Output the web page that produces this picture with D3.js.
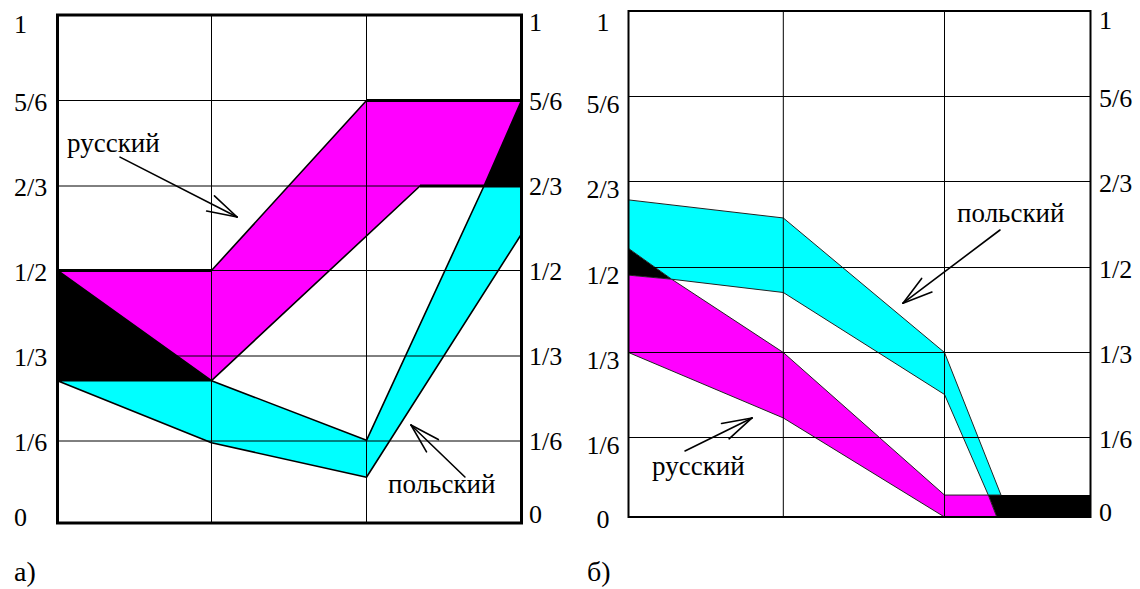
<!DOCTYPE html>
<html>
<head>
<meta charset="utf-8">
<script src="https://cdn.jsdelivr.net/npm/d3@7"></script>
</head>
<body style="margin:0;background:#fff">
<svg id="chart" width="1140" height="589" style="display:block"></svg>
<script>
// ---------- data ----------
const tickValues = [0, 1/6, 1/3, 1/2, 2/3, 5/6, 1];
const tickLabels = ["0", "1/6", "1/3", "1/2", "2/3", "5/6", "1"];
const columns = [0, 1, 2, 3];

// panel а) : polygons as [column position, share]
const aRussian   = [[0, 0.5], [1, 0.5], [2, 5/6], [3, 5/6], [2.758, 2/3], [2.345, 2/3], [1, 0.285]];
const aPolish    = [[0, 0.285], [1, 0.285], [2, 0.168], [2.758, 2/3], [3, 2/3], [3, 0.572], [2, 0.093], [1, 0.163]];
const aBlackLeft = [[0, 0.5], [0, 0.285], [1, 0.285]];
const aBlackRight = [[2.758, 2/3], [3, 5/6], [3, 2/3]];
const aThickEdges = [[[0, 0.5], [1, 0.5]], [[2, 5/6], [3, 5/6]], [[2.345, 2/3], [3, 2/3]]];

// panel б)
const bPolish    = [[0, 0.631], [1, 0.596], [2, 1/3], [2.387, 0.046], [2.300, 0.046], [2, 0.251], [1, 0.451], [0.279, 0.477], [0, 0.537]];
const bRussian   = [[0, 0.485], [0.279, 0.477], [1, 1/3], [2, 0.046], [2.300, 0.046], [2.358, 0], [2, 0], [1, 0.205], [0, 1/3]];
const bBlackLeft = [[0, 0.537], [0.279, 0.477], [0, 0.485]];
const bBlackRight = [[2.300, 0.046], [3, 0.046], [3, 0], [2.358, 0]];

// annotations: label text, label anchor [col, share], arrow from, arrow tip
const aNotes = [
  {text: "русский",  at: [0.062, 0.733], from: [0.406, 0.723], tip: [1.165, 0.6055]},
  {text: "польский", at: [2.139, 0.061], from: [2.635, 0.0935], tip: [2.287, 0.198]}
];
const bNotes = [
  {text: "польский", at: [2.086, 0.588], from: [2.380, 0.5727], tip: [1.7425, 0.430]},
  {text: "русский",  at: [0.152, 0.088], from: [0.365, 0.1384], tip: [0.798, 0.205]}
];
const captions = ["а)", "б)"];

// ---------- drawing ----------
const FONT = "'Liberation Serif', monospace";
const svg = d3.select("#chart");
svg.append("rect").attr("width", 1140).attr("height", 589).attr("fill", "#fff");

const MAGENTA = "#ff00ff", CYAN = "#00ffff", BLACK = "#000";

function panel(cfg) {
  const g = svg.append("g");
  const x = d3.scaleLinear().domain(columns).range(cfg.xr);
  const y = d3.scaleLinear().domain(tickValues).range(cfg.yr);
  const line = d3.line().x(d => x(d[0])).y(d => y(d[1]));
  const poly = pts => line(pts) + "Z";

  cfg.polys.forEach(p => {
    g.append("path").attr("d", poly(p.pts))
      .attr("fill", p.fill)
      .attr("stroke", p.stroke ? cfg.edgeColor : "none")
      .attr("stroke-width", cfg.edgeWidth)
      .attr("stroke-linejoin", "round");
  });

  const grid = g.append("g").attr("stroke", "#000").attr("stroke-width", 1);
  grid.selectAll("line.v").data(columns.slice(1, -1)).join("line")
    .attr("x1", d => x(d)).attr("x2", d => x(d))
    .attr("y1", y(1)).attr("y2", y(0));
  grid.selectAll("line.h").data(tickValues.slice(1, -1)).join("line")
    .attr("x1", x(0)).attr("x2", x(3))
    .attr("y1", d => y(d)).attr("y2", d => y(d));

  (cfg.thick || []).forEach(seg => {
    g.append("path").attr("d", line(seg)).attr("stroke", "#000")
      .attr("stroke-width", 3).attr("fill", "none");
  });

  g.append("rect")
    .attr("x", x(0)).attr("y", y(1))
    .attr("width", x(3) - x(0)).attr("height", y(0) - y(1))
    .attr("fill", "none").attr("stroke", "#000").attr("stroke-width", cfg.frameWidth);

  // axes (labels only)
  const fmt = (d, i) => tickLabels[i];
  const left = g.append("g").attr("transform", `translate(${x(0)},0)`)
    .call(d3.axisLeft(y).tickValues(tickValues).tickFormat(fmt).tickSize(0));
  const right = g.append("g").attr("transform", `translate(${x(3)},0)`)
    .call(d3.axisRight(y).tickValues(tickValues).tickFormat(fmt).tickSize(0));
  [left, right].forEach(ax => {
    ax.select(".domain").remove();
    ax.attr("font-family", null).attr("font-size", null);
  });
  left.selectAll("text").classed("lbl", true).datum(function(d) { return d; })
    .attr("text-anchor", cfg.leftAnchor)
    .attr("x", cfg.leftX - x(0))
    .attr("y", d => cfg.leftDy(d))
    .attr("dy", "0.33em").attr("data-size", 26);
  right.selectAll("text").classed("lbl", true)
    .attr("text-anchor", "start")
    .attr("x", cfg.rightX - x(3))
    .attr("y", d => cfg.rightDy(d))
    .attr("dy", "0.33em").attr("data-size", 26);

  cfg.notes.forEach(n => {
    g.append("text").classed("lbl", true).attr("data-size", 27)
      .attr("x", x(n.at[0])).attr("y", y(n.at[1])).text(n.text);
    const fx = x(n.from[0]), fy = y(n.from[1]);
    const tx = x(n.tip[0]), ty = y(n.tip[1]);
    const back = Math.atan2(fy - ty, fx - tx);
    const L = 31, A = 16 * Math.PI / 180;
    const a = g.append("g").attr("stroke", "#000").attr("stroke-width", 1.6)
      .attr("stroke-linecap", "round").attr("fill", "none");
    a.append("line").attr("x1", fx).attr("y1", fy).attr("x2", tx).attr("y2", ty);
    [-A, A].forEach(s => {
      a.append("line").attr("x1", tx).attr("y1", ty)
        .attr("x2", tx + L * Math.cos(back + s)).attr("y2", ty + L * Math.sin(back + s));
    });
  });

  svg.append("text").classed("lbl", true).attr("data-size", 28)
    .attr("x", cfg.capX).attr("y", 581).text(cfg.caption);
}

panel({
  xr: [57.5, 211.5, 366.5, 521.5],
  yr: [523, 441, 356, 270.5, 186, 100.5, 15],
  polys: [
    {pts: aBlackLeft, fill: BLACK},
    {pts: aBlackRight, fill: BLACK},
    {pts: aRussian, fill: MAGENTA, stroke: true},
    {pts: aPolish, fill: CYAN, stroke: true}
  ],
  thick: aThickEdges,
  edgeColor: "#000", edgeWidth: 1.6,
  frameWidth: 3,
  leftAnchor: "start", leftX: 14,
  leftDy: d => d === 1 ? 8.5 : d === 0 ? -6 : 1,
  rightX: 529,
  rightDy: d => d === 1 ? 7 : d === 0 ? -9 : 0,
  notes: aNotes,
  caption: captions[0], capX: 14
});

panel({
  xr: [628.5, 783.3, 944.5, 1090.5],
  yr: [517, 437.5, 352.5, 267.5, 181.5, 96.5, 11],
  polys: [
    {pts: bBlackLeft, fill: BLACK},
    {pts: bBlackRight, fill: BLACK},
    {pts: bRussian, fill: MAGENTA, stroke: true},
    {pts: bPolish, fill: CYAN, stroke: true}
  ],
  edgeColor: "#222", edgeWidth: 1,
  frameWidth: 2,
  leftAnchor: "middle", leftX: 603,
  leftDy: d => d === 1 ? 10.5 : d === 0 ? 1.5 : 7,
  rightX: 1099,
  rightDy: d => d === 1 ? 9 : d === 0 ? -5.5 : 1,
  notes: bNotes,
  caption: captions[1], capX: 587
});

// font styling applied the same way for every text
function applyFonts() {
  svg.selectAll("text.lbl")
    .style("font-family", FONT)
    .attr("font-size", function() { return +this.getAttribute("data-size"); })
    .attr("fill", "#000");
}
applyFonts();
if (document.fonts && document.fonts.load) {
  document.fonts.load("26px 'Liberation Serif'", "русский").then(applyFonts).catch(() => {});
}
</script>
</body>
</html>
